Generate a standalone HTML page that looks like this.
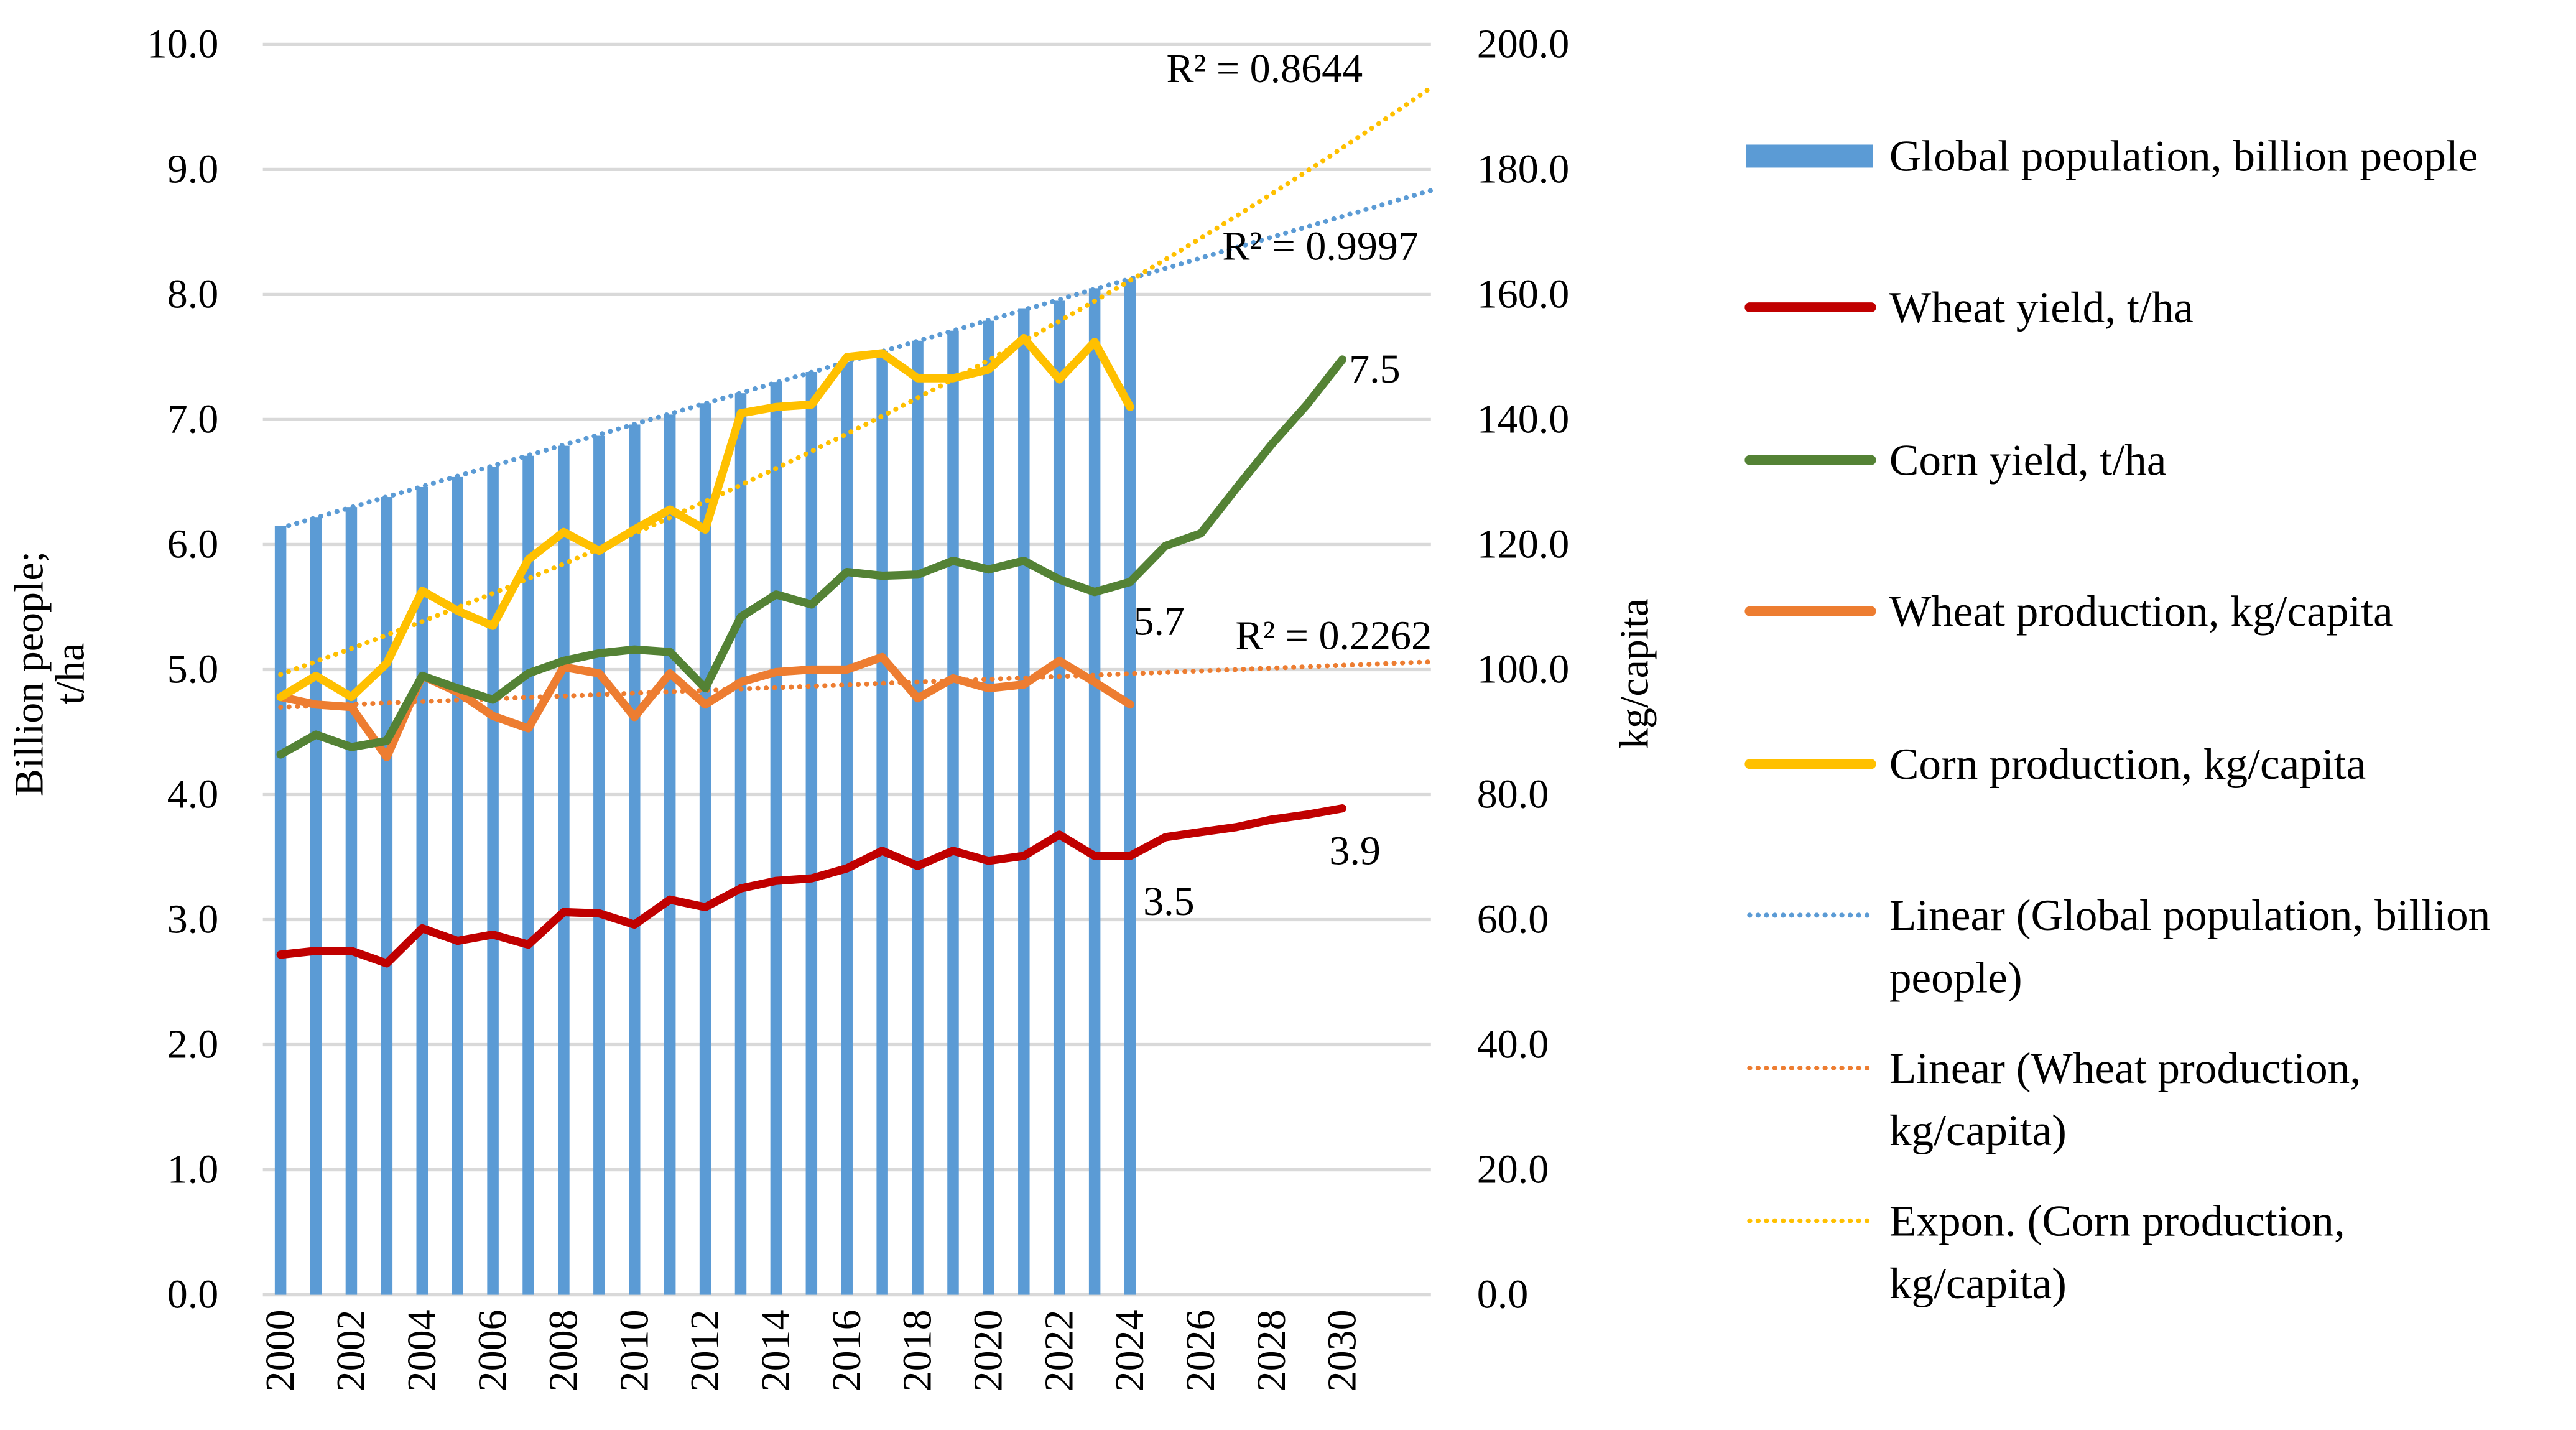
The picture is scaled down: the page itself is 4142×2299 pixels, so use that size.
<!DOCTYPE html>
<html><head><meta charset="utf-8"><style>
html,body{margin:0;padding:0;background:#fff;}
svg{display:block;font-family:"Liberation Serif",serif;}
</style></head><body>
<svg id="chart" width="4142" height="2299" viewBox="0 0 1568 870.3" xmlns="http://www.w3.org/2000/svg">
<g id="grid"></g>
<g id="bars"></g>
<g id="trends"></g>
<g id="lines"></g>
<g id="axes"></g>
<g id="labels"></g>
<g id="legend"></g>
</svg>
<script>
const years=[];for(let y=2000;y<=2032;y++)years.push(y);
const population=[6.15,6.22,6.30,6.38,6.46,6.54,6.62,6.71,6.79,6.87,6.96,7.04,7.13,7.21,7.30,7.38,7.46,7.55,7.63,7.71,7.79,7.89,7.95,8.05,8.12];
const wheatYield=[2.72,2.75,2.75,2.65,2.93,2.83,2.88,2.80,3.06,3.05,2.96,3.16,3.10,3.25,3.31,3.33,3.41,3.55,3.43,3.55,3.47,3.51,3.68,3.51,3.51,3.66,3.70,3.74,3.80,3.84,3.89];
const cornYield=[4.32,4.48,4.38,4.43,4.95,4.85,4.76,4.97,5.07,5.13,5.16,5.14,4.85,5.42,5.60,5.52,5.78,5.75,5.76,5.87,5.80,5.87,5.72,5.62,5.70,5.99,6.09,6.45,6.80,7.12,7.48];
const wheatProd=[95.6,94.4,94,86,99,96.4,92.6,90.6,100.4,99.4,92.4,99.4,94.4,98,99.6,100,100,102,95.4,98.6,97,97.6,101.4,98,94.4];
const cornProd=[95.6,99,95.6,101,112.6,109.4,107,117.6,122,119,122.4,125.6,122.4,141,142,142.4,150,150.6,146.6,146.6,148,153,146.4,152.4,142];
const leftTicks=[0,1,2,3,4,5,6,7,8,9,10];
const rightTicks=[0,20,40,60,80,100,120,140,160,180,200];
const r2Labels=["R² = 0.8644","R² = 0.9997","R² = 0.2262"];

const NS="http://www.w3.org/2000/svg";
const L=160,R=871,T=27,B=788;
const step=(R-L)/years.length;
const xS=i=>L+step*(i+0.5);
const yL=v=>B-(v/10)*(B-T);
const yR=v=>B-(v/200)*(B-T);
function mk(tag,attrs,parent,text){const e=document.createElementNS(NS,tag);for(const k in attrs)e.setAttribute(k,attrs[k]);if(text!==undefined)e.textContent=text;parent.appendChild(e);return e;}
const G=id=>document.getElementById(id);

leftTicks.forEach((t,i)=>{
  const ln=mk('line',{x1:L,x2:R,y1:yL(t),y2:yL(t),stroke:'#d9d9d9','stroke-width':2},G('grid'));
  
  
  const tx=mk('text',{x:133,y:yL(t)+8,'text-anchor':'end','font-size':25,fill:'#000'},G('axes'),t.toFixed(1));
  
  
});
rightTicks.forEach(t=>{
  const tx=mk('text',{x:899,y:yR(t)+8,'text-anchor':'start','font-size':25,fill:'#000'},G('axes'),t.toFixed(1));
  
  
});
years.forEach((y,i)=>{
  if(y%2!==0||y>2030)return;
  const tx=mk('text',{transform:`translate(${xS(i)+8},797) rotate(-90)`,'text-anchor':'end','font-size':25,fill:'#000'},G('axes'),String(y));
  
  
});
let t1=mk('text',{transform:'translate(26,410) rotate(-90)','text-anchor':'middle','font-size':25},G('axes'),'Billion people;');


let t2=mk('text',{transform:'translate(51,410) rotate(-90)','text-anchor':'middle','font-size':25},G('axes'),'t/ha');


let t3=mk('text',{transform:'translate(1003,410) rotate(-90)','text-anchor':'middle','font-size':25},G('axes'),'kg/capita');



population.forEach((v,i)=>{
  const b=mk('rect',{x:xS(i)-3.5,y:yL(v),width:7,height:B-yL(v),fill:'#5b9bd5'},G('bars'));
  
  
});

function linfit(a){const n=a.length;let sx=0,sy=0,sxx=0,sxy=0;a.forEach((v,i)=>{sx+=i;sy+=v;sxx+=i*i;sxy+=i*v;});const m=(n*sxy-sx*sy)/(n*sxx-sx*sx);return [m,(sy-m*sx)/n];}
function trend(fn,yf,color,name){let d='';for(let i=0;i<=32.5;i+=0.5){d+=(i?'L':'M')+xS(i).toFixed(1)+','+yf(fn(i)).toFixed(1);}
  const p=mk('path',{d:d,fill:'none',stroke:color,'stroke-width':3,'stroke-dasharray':'0.1 5','stroke-linecap':'round'},G('trends'));
  
  }
const [pm,pb]=linfit(population);trend(i=>pm*i+pb,yL,'#5b9bd5','trend-population');
const [wm,wb]=linfit(wheatProd);trend(i=>wm*i+wb,yR,'#ed7d31','trend-wheat-production');
const [cm,cb]=linfit(cornProd.map(Math.log));trend(i=>Math.exp(cm*i+cb),yR,'#ffc000','trend-corn-production');

function line(arr,yf,color,name){const d=arr.map((v,i)=>(i?'L':'M')+xS(i).toFixed(1)+','+yf(v).toFixed(1)).join('');
  const p=mk('path',{d:d,fill:'none',stroke:color,'stroke-width':5,'stroke-linejoin':'round','stroke-linecap':'round'},G('lines'));
  
  }
line(wheatProd,yR,'#ed7d31','line-wheat-production');
line(cornYield,yL,'#548235','line-corn-yield');
line(wheatYield,yL,'#c00000','line-wheat-yield');
line(cornProd,yR,'#ffc000','line-corn-production');

function lab(x,y,s,name){const t=mk('text',{x:x,y:y,'font-size':25},G('labels'),s);}
lab(710,50,r2Labels[0],'r2-corn-production');
lab(744,158,r2Labels[1],'r2-population');
lab(752,395,r2Labels[2],'r2-wheat-production');
lab(xS(30)+4,yL(cornYield[30])+14,cornYield[30].toFixed(1),'label-corn-2030');
lab(xS(24)+2,yL(cornYield[24])+32,cornYield[24].toFixed(1),'label-corn-2024');
lab(xS(24)+8,yL(wheatYield[24])+36,wheatYield[24].toFixed(1),'label-wheat-2024');
lab(xS(30)-8,yL(wheatYield[30])+34,wheatYield[30].toFixed(1),'label-wheat-2030');

const lg=G('legend');
function entry(y,kind,color,texts,name){
  const g=mk('g',{},lg);
  if(kind==='bar')mk('rect',{x:1063,y:y-7,width:77,height:14,fill:'#5b9bd5'},g);
  else if(kind==='line')mk('line',{x1:1065,x2:1139,y1:y,y2:y,stroke:color,'stroke-width':6,'stroke-linecap':'round'},g);
  else mk('line',{x1:1065,x2:1139,y1:y,y2:y,stroke:color,'stroke-width':3,'stroke-dasharray':'0.1 5','stroke-linecap':'round'},g);
  texts.forEach((t,k)=>mk('text',{x:1150,y:y+9+k*38,'font-size':27},g,t));
}
entry(95,'bar','#5b9bd5',['Global population, billion people'],'legend-population');
entry(187,'line','#c00000',['Wheat yield, t/ha'],'legend-wheat-yield');
entry(280,'line','#548235',['Corn yield, t/ha'],'legend-corn-yield');
entry(372,'line','#ed7d31',['Wheat production, kg/capita'],'legend-wheat-production');
entry(465,'line','#ffc000',['Corn production, kg/capita'],'legend-corn-production');
entry(557,'dot','#5b9bd5',['Linear (Global population, billion','people)'],'legend-trend-population');
entry(650,'dot','#ed7d31',['Linear (Wheat production,','kg/capita)'],'legend-trend-wheat');
entry(743,'dot','#ffc000',['Expon. (Corn production,','kg/capita)'],'legend-trend-corn');
</script>
</body></html>
